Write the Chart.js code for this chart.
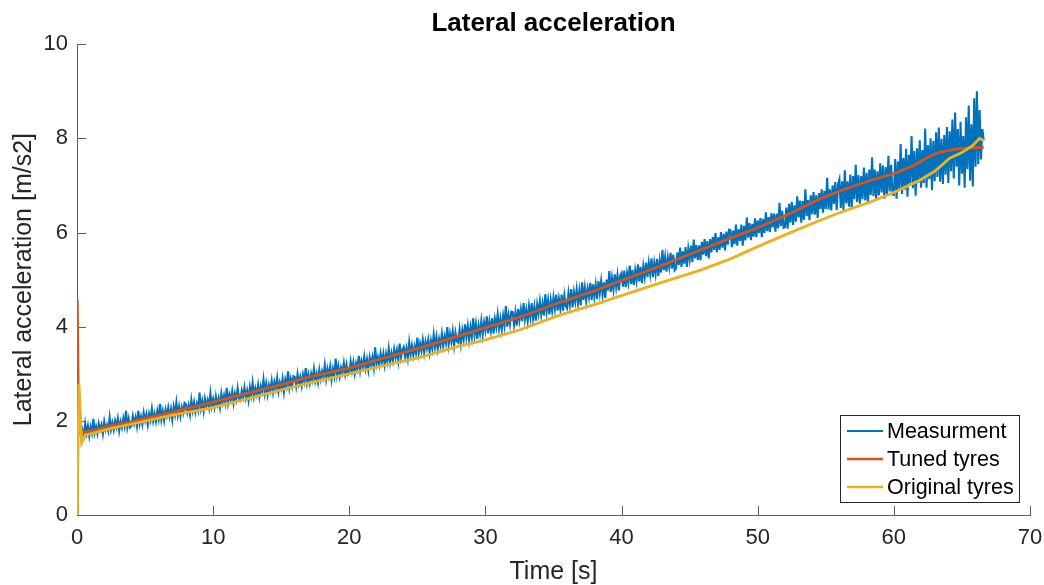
<!DOCTYPE html>
<html>
<head>
<meta charset="utf-8">
<title>Lateral acceleration</title>
<script src="https://cdn.jsdelivr.net/npm/chart.js@4.4.1/dist/chart.umd.min.js"></script>
<style>
  html, body { margin: 0; padding: 0; background: #fff; }
  #wrap { position: relative; width: 1044px; height: 585px; }
</style>
</head>
<body>
<div id="wrap"><canvas id="latChart"></canvas></div>
<script>
// measured lateral acceleration, sampled every 0.1 s from t = 0
const measStart = 0;
const measDt = 0.1;
const measValues = [
  1.83,1.70,1.88,1.67,1.81,1.69,1.94,1.74,1.89,1.68,1.87,1.74,2.04,1.75,1.88,1.73,1.94,1.81,1.92,1.73,
  1.98,1.81,1.91,1.79,2.07,1.82,1.96,1.81,2.00,1.87,2.05,1.79,1.98,1.86,2.05,1.89,2.21,1.87,2.04,1.86,
  1.89,2.10,1.94,2.07,1.89,2.21,1.94,2.09,1.93,2.17,2.01,2.14,1.92,2.15,2.02,2.25,2.00,2.15,1.99,2.21,
  2.05,2.36,2.03,2.20,2.01,2.24,2.11,2.28,2.09,2.25,2.03,2.30,2.14,2.39,2.12,2.30,2.10,2.29,2.17,2.38,
  2.35,2.18,2.33,2.14,2.44,2.22,2.39,2.19,2.36,2.23,2.60,2.27,2.42,2.21,2.47,2.31,2.44,2.28,2.58,2.31,
  2.46,2.29,2.52,2.35,2.48,2.29,2.58,2.39,2.54,2.38,2.70,2.38,2.56,2.45,2.63,2.38,2.58,2.45,2.69,2.47,
  2.43,2.64,2.51,2.71,2.49,2.64,2.44,2.71,2.54,2.80,2.52,2.69,2.56,2.76,2.52,2.73,2.62,2.88,2.59,2.79,
  2.56,2.76,2.64,2.85,2.61,2.82,2.68,2.91,2.63,2.81,2.69,2.89,2.62,2.87,2.74,3.05,2.71,2.89,2.74,2.95,
  2.93,2.74,2.99,2.79,2.93,2.75,2.98,2.84,3.12,2.81,2.98,2.80,3.00,2.87,3.10,2.85,3.00,2.82,3.08,2.89,
  3.05,2.93,3.18,2.89,3.10,2.95,3.15,2.88,3.10,2.95,3.32,2.98,3.16,2.95,3.13,3.02,3.23,3.00,3.19,2.98,
  3.01,3.26,3.06,3.24,3.01,3.22,3.10,3.38,3.07,3.27,3.15,3.36,3.12,3.30,3.08,3.35,3.19,3.35,3.14,3.56,
  3.21,3.35,3.19,3.43,3.25,3.43,3.19,3.42,3.26,3.53,3.25,3.44,3.28,3.52,3.34,3.50,3.28,3.64,3.35,3.51,
  3.57,3.36,3.54,3.33,3.66,3.41,3.60,3.39,3.58,3.44,3.77,3.44,3.64,3.49,3.71,3.45,3.68,3.54,3.72,3.46,
  3.70,3.53,3.83,3.57,3.78,3.53,3.74,3.60,3.85,3.59,3.79,3.65,3.99,3.62,3.85,3.68,3.90,3.60,3.87,3.69,
  3.66,3.93,3.64,3.92,3.73,4.05,3.78,4.01,3.72,3.99,3.78,4.18,3.82,4.05,3.74,4.02,3.85,4.12,3.83,4.09,
  3.92,4.22,3.86,4.11,3.91,4.18,3.85,4.16,3.99,4.26,3.96,4.17,3.94,4.23,4.02,4.44,4.00,4.24,4.05,4.32,
  4.31,4.04,4.30,4.02,4.38,4.14,4.36,4.12,4.50,4.16,4.36,4.12,4.43,4.20,4.50,4.18,4.42,4.13,4.47,4.28,
  4.54,4.26,4.49,4.24,4.69,4.33,4.56,4.26,4.56,4.34,4.62,4.38,4.68,4.34,4.59,4.38,4.68,4.34,4.66,4.44,
  4.39,4.71,4.47,4.80,4.41,4.73,4.53,4.79,4.50,4.76,4.45,4.94,4.57,4.83,4.55,4.81,4.63,4.93,4.57,4.90,
  4.64,4.89,4.59,4.97,4.72,4.97,4.68,4.94,4.61,5.00,4.77,5.18,4.74,5.03,4.79,5.11,4.84,5.09,4.77,5.08,
  5.14,4.85,5.19,4.84,5.13,4.94,5.30,4.91,5.20,4.89,5.19,4.98,5.32,4.96,5.27,4.93,5.28,5.06,5.36,5.05,
  5.35,5.12,5.45,5.05,5.35,5.13,5.44,5.08,5.39,5.15,5.63,5.20,5.47,5.17,5.47,5.27,5.57,5.23,5.53,5.20,
  5.24,5.58,5.31,5.68,5.27,5.60,5.34,5.69,5.27,5.65,5.43,5.72,5.37,5.85,5.45,5.73,5.42,5.73,5.41,5.80,
  5.53,5.86,5.50,5.82,5.45,5.86,5.58,5.91,5.63,5.99,5.58,5.90,5.63,6.01,5.68,5.97,5.62,6.02,5.74,6.06,
  6.05,5.69,6.04,5.75,6.17,5.72,6.07,5.82,6.17,5.72,6.14,5.83,6.32,5.89,6.20,5.84,6.18,5.91,6.30,5.90,
  6.26,5.99,6.31,5.90,6.29,5.99,6.43,6.03,6.33,6.01,6.41,6.11,6.40,6.02,6.40,6.09,6.63,6.14,6.46,6.10,
  6.11,6.53,6.08,6.61,6.21,6.65,6.16,6.58,6.23,6.77,6.32,6.68,6.21,6.67,6.27,6.92,6.35,6.69,6.26,6.79,
  6.39,6.86,6.38,6.79,6.31,6.84,6.50,6.92,6.42,6.88,6.50,7.16,6.49,6.92,6.47,7.00,6.61,7.07,6.48,7.02,
  7.13,6.52,7.09,6.48,7.32,6.62,7.09,6.55,7.23,6.50,7.20,6.71,7.44,6.65,7.22,6.61,7.20,6.71,7.38,6.68,
  7.27,6.62,7.34,6.80,7.60,6.77,7.34,6.71,7.30,6.79,7.47,6.85,7.42,6.72,7.39,6.80,7.63,6.87,7.44,6.81,
  6.80,7.56,6.72,7.51,6.92,7.88,6.82,7.58,6.91,7.78,6.76,7.65,7.04,8.05,6.94,7.73,6.78,7.79,7.05,7.96,
  6.95,7.75,7.05,8.21,6.95,7.86,7.13,8.00,6.90,7.95,7.09,8.13,7.18,8.23,7.08,7.99,7.03,8.07,7.23,8.24,
  7.05,8.15,7.30,8.40,7.15,8.55,7.40,8.20,7.00,8.35,7.25,8.05,6.95,8.45,7.35,8.70,7.10,8.30,6.98,8.85,
  7.40,9.00,7.45,8.60,7.55,8.20,7.95
];

// simulation with tuned tyre parameters
const tunedT = [0, 0.02, 0.12, 0.5, 1.2, 2.5, 4, 5.4, 7, 8.5, 9.8, 12, 14.9, 17, 20, 22.5, 25.2, 28, 30,
  32.5, 35.5, 38, 40, 42.5, 45.8, 48, 50, 52.5, 54.6, 56.5, 58.3, 60, 61.5, 62.5, 63.4, 64.5, 65.5, 66.6];
const tunedY = [0, 4.58, 1.74, 1.76, 1.80, 1.90, 1.98, 2.08, 2.18, 2.29, 2.38, 2.55, 2.76, 2.93, 3.12, 3.33, 3.55, 3.80, 3.98,
  4.20, 4.52, 4.76, 4.98, 5.25, 5.63, 5.88, 6.10, 6.42, 6.72, 6.93, 7.11, 7.25, 7.43, 7.60, 7.71, 7.77, 7.80, 7.81];

// simulation with the original tyre parameters
const origT = [0, 0.15, 0.35, 0.6, 1.2, 2.5, 4, 5.4, 7, 8.5, 9.8, 12, 14.9, 17, 20, 22.5, 25.2, 28, 30,
  32.5, 35.5, 38, 40, 42.5, 45.8, 48, 50, 52, 54.6, 56, 58.3, 60, 61.9, 63, 64.1, 65, 65.8, 66.3, 66.6];
const origY = [0, 2.78, 1.53, 1.70, 1.74, 1.84, 1.93, 2.02, 2.12, 2.20, 2.27, 2.43, 2.65, 2.80, 3.00, 3.17, 3.35, 3.58, 3.72,
  3.93, 4.25, 4.47, 4.66, 4.90, 5.20, 5.44, 5.70, 5.95, 6.26, 6.42, 6.65, 6.85, 7.11, 7.30, 7.58, 7.70, 7.85, 8.00, 7.95];

const xTicks = [0, 10, 20, 30, 40, 50, 60, 70];
const yTicks = [0, 2, 4, 6, 8, 10];

const FONT = "'Liberation Sans', Arial, Helvetica, sans-serif";
const TEXT = '#262626';
const AXIS = '#5e5e5e';

const measData = measValues.map((v, i) => ({ x: measStart + i * measDt, y: v }));
const tunedData = tunedT.map((t, i) => ({ x: t, y: tunedY[i] }));
const origData = origT.map((t, i) => ({ x: t, y: origY[i] }));

// matlab style ticks pointing into the plot
const innerTicks = {
  id: 'innerTicks',
  beforeDatasetsDraw(chart) {
    const { ctx, chartArea: a, scales } = chart;
    const len = 9;
    ctx.save();
    ctx.strokeStyle = AXIS;
    ctx.lineWidth = 1;
    ctx.beginPath();
    xTicks.forEach(v => {
      const px = Math.round(scales.x.getPixelForValue(v)) + 0.5;
      ctx.moveTo(px, a.bottom);
      ctx.lineTo(px, a.bottom - len);
    });
    yTicks.forEach(v => {
      const py = Math.round(scales.y.getPixelForValue(v)) + 0.5;
      ctx.moveTo(a.left, py);
      ctx.lineTo(a.left + len, py);
    });
    ctx.stroke();
    ctx.restore();
  }
};

// boxed legend in the lower right corner of the axes
const boxLegend = {
  id: 'boxLegend',
  afterDraw(chart) {
    const { ctx, chartArea: a } = chart;
    const w = 179, h = 87;
    const x0 = a.right - 11 - w, y0 = a.bottom - 13 - h;
    ctx.save();
    ctx.fillStyle = '#fff';
    ctx.fillRect(x0, y0, w, h);
    ctx.strokeStyle = '#262626';
    ctx.lineWidth = 1;
    ctx.strokeRect(x0 + 0.5, y0 + 0.5, w, h);
    ctx.font = '21.5px ' + FONT;
    ctx.textBaseline = 'middle';
    ctx.fillStyle = '#000';
    chart.data.datasets.forEach((ds, i) => {
      const cy = y0 + 16 + i * 28;
      ctx.strokeStyle = ds.borderColor;
      ctx.lineWidth = i === 0 ? 2 : 2.5;
      ctx.beginPath();
      ctx.moveTo(x0 + 7, cy);
      ctx.lineTo(x0 + 43, cy);
      ctx.stroke();
      ctx.fillText(ds.label, x0 + 47, cy + 1);
    });
    ctx.restore();
  }
};

new Chart(document.getElementById('latChart'), {
  type: 'line',
  data: {
    datasets: [
      { label: 'Measurment', data: measData, borderColor: '#0072BD', borderWidth: 2.1, order: 3 },
      { label: 'Tuned tyres', data: tunedData, borderColor: '#D95319', borderWidth: 2.8, order: 2 },
      { label: 'Original tyres', data: origData, borderColor: '#EDB120', borderWidth: 2.8, order: 1 }
    ]
  },
  options: {
    responsive: true,
    maintainAspectRatio: false,
    animation: false,
    events: [],
    layout: { padding: { top: 0, right: 14, bottom: 0, left: 0 } },
    elements: { point: { radius: 0 }, line: { tension: 0, fill: false } },
    plugins: {
      legend: { display: false },
      tooltip: { enabled: false },
      title: {
        display: true,
        fullSize: false,
        text: 'Lateral acceleration',
        color: '#000',
        font: { family: FONT, size: 26, weight: 'bold' },
        padding: { top: 8, bottom: 5 }
      }
    },
    scales: {
      x: {
        type: 'linear',
        min: 0,
        max: 70,
        afterFit(scale) {
          scale.height = 70;
          scale.paddingLeft = 0;
          scale.paddingRight = 0;
        },
        afterBuildTicks(scale) { scale.ticks = xTicks.map(v => ({ value: v })); },
        ticks: { color: TEXT, font: { family: FONT, size: 22 }, padding: 10, maxRotation: 0, autoSkip: false },
        grid: { display: false, drawTicks: false },
        border: { display: true, color: AXIS, width: 1 },
        title: {
          display: true,
          text: 'Time [s]',
          color: TEXT,
          font: { family: FONT, size: 25, lineHeight: 1 },
          padding: { top: 0, bottom: 0 }
        }
      },
      y: {
        type: 'linear',
        min: 0,
        max: 10,
        afterFit(scale) { scale.width = 77; },
        afterBuildTicks(scale) { scale.ticks = yTicks.map(v => ({ value: v })); },
        ticks: { color: TEXT, font: { family: FONT, size: 22 }, padding: 9, autoSkip: false },
        grid: { display: false, drawTicks: false },
        border: { display: true, color: AXIS, width: 1 },
        title: {
          display: true,
          text: 'Lateral acceleration [m/s2]',
          color: TEXT,
          font: { family: FONT, size: 25, lineHeight: 1 },
          padding: { top: 12, bottom: 0 }
        }
      }
    }
  },
  plugins: [innerTicks, boxLegend]
});
</script>
</body>
</html>
